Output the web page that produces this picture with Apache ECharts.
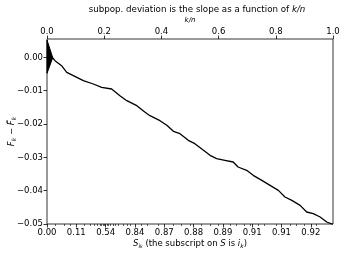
<!DOCTYPE html>
<html><head><meta charset="utf-8">
<script src="https://cdn.jsdelivr.net/npm/echarts@6/dist/echarts.min.js"></script>
<style>html,body{margin:0;padding:0;background:#fff}#c{width:345px;height:254px}</style>
</head><body><div id="c"></div>
<script>
// k/n positions and deviations F_k - F~_k
const kn = [0, 0.02, 0.028, 0.051, 0.069, 0.092, 0.127, 0.162, 0.191, 0.226, 0.255, 0.279, 0.314, 0.343, 0.360, 0.395, 0.419, 0.442, 0.465, 0.494, 0.517, 0.547, 0.570, 0.593, 0.622, 0.651, 0.668, 0.698, 0.721, 0.751, 0.780, 0.809, 0.832, 0.856, 0.885, 0.908, 0.931, 0.955, 0.978, 1.0];
const dev = [0, -0.0002, -0.001, -0.0025, -0.0045, -0.0055, -0.007, -0.008, -0.009, -0.0095, -0.0115, -0.013, -0.0145, -0.0165, -0.0175, -0.019, -0.0204, -0.0222, -0.0229, -0.0249, -0.0259, -0.0279, -0.0294, -0.0304, -0.0309, -0.0314, -0.0329, -0.0339, -0.0354, -0.0369, -0.0384, -0.0399, -0.0419, -0.0429, -0.0444, -0.0464, -0.0469, -0.0479, -0.0494, -0.0501];
// scale triangle at the origin: [k/n, value]
const triKn = [0, 0.02, 0];
const triDev = [0.0052, -0.0001, -0.0048];
// bottom axis: tick positions (k/n) and score labels
const sTicks = [0, 0.1025, 0.205, 0.3075, 0.41, 0.5125, 0.615, 0.7175, 0.82, 0.9225];
const sLabels = ['0.00', '0.11', '0.54', '0.84', '0.87', '0.88', '0.89', '0.91', '0.91', '0.92'];
const sMinor = [0.03, 0.06, 0.08, 0.13, 0.15, 0.165, 0.175, 0.185, 0.19, 0.195, 0.2, 0.21, 0.215, 0.22, 0.23, 0.24, 0.25, 0.265, 0.28, 0.29, 0.33, 0.35, 0.39, 0.44, 0.47, 0.5, 0.54, 0.57, 0.6, 0.64, 0.66, 0.69, 0.71, 0.74, 0.76, 0.8, 0.85, 0.87, 0.9, 0.94];

const FONT = 'DejaVu Sans';
const fmtY = v => (v < -1e-9 ? '\u2212' : '') + Math.abs(v).toFixed(2);
const chart = echarts.init(document.getElementById('c'), null, {renderer: 'canvas'});
chart.setOption({
  animation: false,
  title: {
    text: 'subpop. deviation is the slope as a function of {i|k/n}',
    left: 192, top: 0, textAlign: 'center',
    textStyle: {fontFamily: FONT, fontSize: 8.7, fontWeight: 'normal', color: '#000',
      rich: {i: {fontFamily: FONT, fontSize: 8.7, fontStyle: 'italic', color: '#000'}}}
  },
  grid: {left: 47, right: 12, top: 39, bottom: 30, outerBoundsMode: 'none', containLabel: false,
    show: true, borderColor: '#000', borderWidth: 0.8, backgroundColor: 'transparent'},
  xAxis: [
    {type: 'value', position: 'top', min: 0, max: 1, interval: 0.2,
      name: 'k/n', nameLocation: 'middle', nameGap: 15, nameMoveOverlap: false,
      nameTextStyle: {fontFamily: FONT, fontSize: 7, fontStyle: 'italic', color: '#000'},
      axisLine: {show: false, onZero: false}, splitLine: {show: false},
      axisTick: {show: true, inside: false, length: 3.5, lineStyle: {color: '#000', width: 0.8}},
      axisLabel: {fontFamily: FONT, fontSize: 8.5, color: '#000', margin: 3, formatter: v => v.toFixed(1)}},
    {type: 'value', position: 'bottom', min: 0, max: 1,
      name: '{i|S}{sub|i}{subsub|k} (the subscript on {i|S} is {i|i}{sub|k})', nameLocation: 'middle', nameGap: 14.5, nameMoveOverlap: false,
      nameTextStyle: {fontFamily: FONT, fontSize: 8.5, color: '#000',
        rich: {i: {fontFamily: FONT, fontSize: 8.5, fontStyle: 'italic', color: '#000'},
               sub: {fontFamily: FONT, fontSize: 6, fontStyle: 'italic', color: '#000', verticalAlign: 'bottom', padding: [4, 0, 0, 0]},
               subsub: {fontFamily: FONT, fontSize: 4.5, fontStyle: 'italic', color: '#000', verticalAlign: 'bottom', padding: [6, 0, 0, 0]}}},
      axisLine: {show: false, onZero: false}, splitLine: {show: false},
      axisTick: {show: true, length: 3.5, customValues: sTicks, lineStyle: {color: '#000', width: 0.8}},
      axisLabel: {fontFamily: FONT, fontSize: 8.5, color: '#000', margin: 4, customValues: sTicks,
        formatter: v => { let b = 0; sTicks.forEach((t, i) => { if (Math.abs(t - v) < Math.abs(sTicks[b] - v)) b = i; }); return sLabels[b]; }}},
    {type: 'value', position: 'bottom', min: 0, max: 1,
      axisLine: {show: false, onZero: false}, splitLine: {show: false},
      axisTick: {show: true, length: 2, customValues: sMinor, lineStyle: {color: '#000', width: 0.6}},
      axisLabel: {show: false}}
  ],
  yAxis: {
    type: 'value', min: -0.05, max: 0.0055, interval: 0.01,
    name: '{i|F}{sub|k} \u2212 {i|F\u0303}{sub|k}', nameLocation: 'middle', nameGap: 30, nameRotate: 90, nameMoveOverlap: false,
    nameTextStyle: {fontFamily: FONT, fontSize: 8.5, color: '#000',
      rich: {i: {fontFamily: FONT, fontSize: 8.5, fontStyle: 'italic', color: '#000'},
             sub: {fontFamily: FONT, fontSize: 6, fontStyle: 'italic', color: '#000', verticalAlign: 'bottom', padding: [4, 0, 0, 0]}}},
    axisLine: {show: false, onZero: false}, splitLine: {show: false},
    axisTick: {show: true, length: 3.5, lineStyle: {color: '#000', width: 0.8}},
    axisLabel: {fontFamily: FONT, fontSize: 8.5, color: '#000', margin: 4, formatter: fmtY, showMaxLabel: false}
  },
  series: [
    {type: 'line', xAxisIndex: 0, data: kn.map((k, i) => [k, dev[i]]), showSymbol: false, symbol: 'none',
      lineStyle: {color: '#000', width: 1.3}, z: 3},
    {type: 'custom', xAxisIndex: 0, data: [0],
      renderItem: (params, api) => ({
        type: 'polygon',
        shape: {points: triKn.map((k, i) => api.coord([k, triDev[i]]))},
        style: {fill: '#000', stroke: '#000'}
      }), z: 4}
  ]
});
</script></body></html>
